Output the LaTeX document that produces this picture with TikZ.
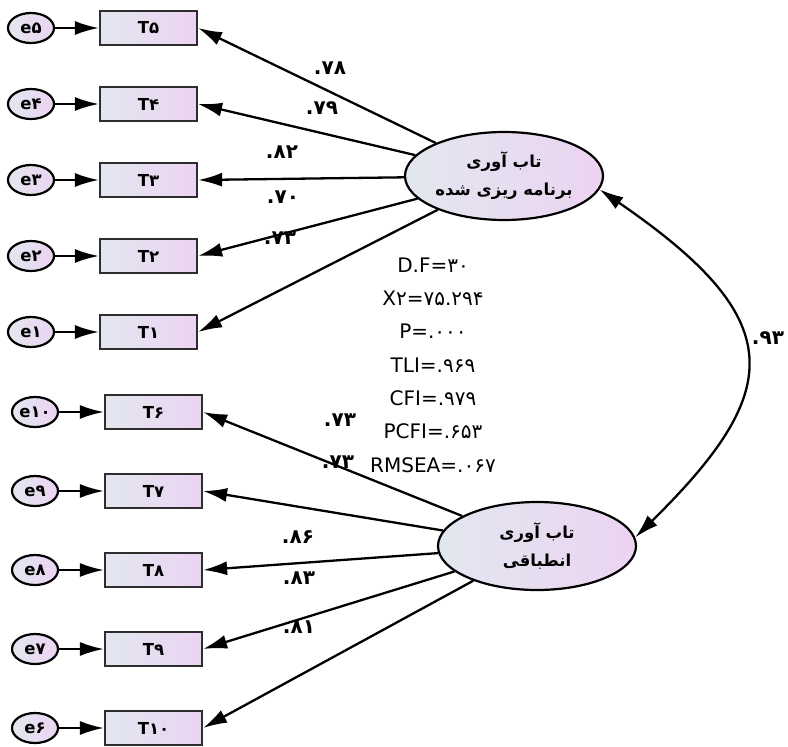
\documentclass[tikz,border=0pt]{standalone}
\usepackage{fontspec}
\usepackage{tikz}
\usetikzlibrary{arrows.meta,shapes.geometric}
\setmainfont{DejaVu Sans}
\newfontfamily\farsifont[Script=Arabic]{DejaVu Sans}
\TeXXeTstate=1
\definecolor{FillLeft}{HTML}{E2E7EF}
\definecolor{FillRight}{HTML}{ECD3F2}
\definecolor{EdgeColor}{HTML}{2E2E2E}
\newcommand\nodeplan{\beginR تاب آوری\endR\\\beginR برنامه ریزی شده\endR}
\newcommand\nodeadapt{\beginR تاب آوری\endR\\\beginR انطباقی\endR}
\tikzstyle{shadenode} = [draw=EdgeColor, line width=2.2pt, inner sep=0pt, left color=FillLeft, right color=FillRight]
\tikzstyle{obsbox} = [shadenode, rectangle, minimum width=97pt, minimum height=34pt, font=\bfseries\fontsize{16.5}{18}\selectfont]
\tikzstyle{errnode} = [shadenode, ellipse, draw=black, minimum width=46pt, minimum height=30pt, font=\bfseries\fontsize{16.5}{18}\selectfont]
\tikzstyle{latnode} = [shadenode, ellipse, draw=black, minimum width=198pt, minimum height=88pt, align=center, font=\farsifont\bfseries\fontsize{16.5}{28}\selectfont]
\tikzstyle{loadlbl} = [inner sep=0pt, font=\bfseries\fontsize{20}{22}\selectfont]
\tikzset{>={Latex[length=24pt,width=14pt]}, every picture/.style={line width=2.3pt}}
\begin{document}
\begin{tikzpicture}[x=1pt, y=-1pt]
\useasboundingbox (0,0) rectangle (788,747);
\node[latnode] (plan) at (504, 176) {\nodeplan};
\node[latnode] (adapt) at (537, 546) {\nodeadapt};
\node[obsbox] (t5) at (148.5, 28) {T۵};
\node[obsbox] (t4) at (148.5, 104) {T۴};
\node[obsbox] (t3) at (148.5, 180) {T۳};
\node[obsbox] (t2) at (148.5, 256) {T۲};
\node[obsbox] (t1) at (148.5, 332) {T۱};
\node[obsbox] (t6) at (153.5, 412) {T۶};
\node[obsbox] (t7) at (153.5, 491) {T۷};
\node[obsbox] (t8) at (153.5, 570) {T۸};
\node[obsbox] (t9) at (153.5, 649) {T۹};
\node[obsbox] (t10) at (153.5, 728) {T۱۰};
\node[errnode] (e5) at (31, 28) {e۵};
\node[errnode] (e4) at (31, 104) {e۴};
\node[errnode] (e3) at (31, 180) {e۳};
\node[errnode] (e2) at (31, 256) {e۲};
\node[errnode] (e1) at (31, 332) {e۱};
\node[errnode] (e10) at (35, 412) {e۱۰};
\node[errnode] (e9) at (35, 491) {e۹};
\node[errnode] (e8) at (35, 570) {e۸};
\node[errnode] (e7) at (35, 649) {e۷};
\node[errnode] (e6) at (35, 728) {e۶};
\node[loadlbl] (l5) at (330, 68) {.۷۸};
\node[loadlbl] (l4) at (322, 108) {.۷۹};
\node[loadlbl] (l3) at (282, 152) {.۸۲};
\node[loadlbl] (l2) at (283, 197) {.۷۰};
\node[loadlbl] (l1) at (280, 238) {.۷۳};
\node[loadlbl] (l6) at (340, 420) {.۷۳};
\node[loadlbl] (l7) at (338, 462) {.۷۳};
\node[loadlbl] (l8) at (298, 537) {.۸۶};
\node[loadlbl] (l9) at (299, 578) {.۸۳};
\node[loadlbl] (l10) at (299, 627) {.۸۱};
\node[loadlbl] (cov) at (768, 338) {.۹۳};
\node[align=center, font=\fontsize{20}{33.3}\selectfont] (fit) at (433, 365)
  {D.F=۳۰\\X۲=۷۵.۲۹۴\\P=.۰۰۰\\TLI=.۹۶۹\\CFI=.۹۷۹\\PCFI=.۶۵۳\\RMSEA=.۰۶۷};
\draw [->] (e5) -- (t5);
\draw [->] (e4) -- (t4);
\draw [->] (e3) -- (t3);
\draw [->] (e2) -- (t2);
\draw [->] (e1) -- (t1);
\draw [->] (e10) -- (t6);
\draw [->] (e9) -- (t7);
\draw [->] (e8) -- (t8);
\draw [->] (e7) -- (t9);
\draw [->] (e6) -- (t10);
\draw [->] (plan) -- (t5.east);
\draw [->] (plan) -- (t4.east);
\draw [->] (plan) -- (t3.east);
\draw [->] (plan) -- (t2.east);
\draw [->] (plan) -- (t1.east);
\draw [->] (adapt) -- (t6.east);
\draw [->] (adapt) -- (t7.east);
\draw [->] (adapt) -- (t8.east);
\draw [->] (adapt) -- (t9.east);
\draw [->] (adapt) -- (t10.east);
\draw [<->] (plan.-8) .. controls (790, 320) and (785, 390) .. (adapt.5);
\end{tikzpicture}
\end{document}
